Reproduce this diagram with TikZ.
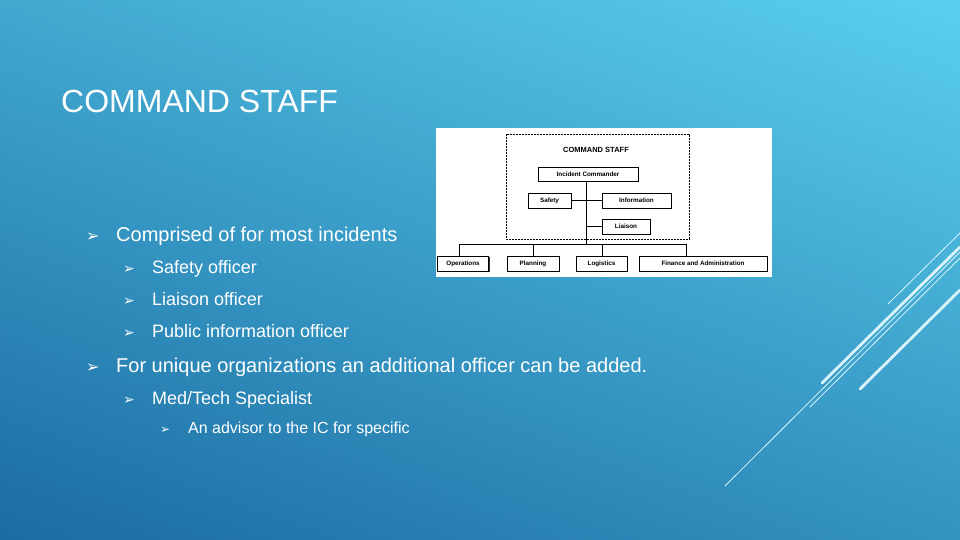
\documentclass[tikz,border=0pt]{standalone}
\usepackage{fontspec}
\setmainfont{Liberation Sans}
\newfontfamily\djvfont{DejaVu Sans}
\begin{document}
\begin{tikzpicture}[x=1pt,y=-1pt,
  box/.style={draw=black,fill=white,line width=0.6pt,inner sep=0pt,font=\fontsize{6.3}{7}\selectfont\bfseries,
    preaction={fill=black!80,transform canvas={xshift=1.3pt,yshift=-1.3pt}}},
  ln/.style={line width=0.8pt},
  deco/.style={white!85!cyan,line cap=round},
  txt/.style={anchor=base west,text=white,inner sep=0pt},
  arr/.style={anchor=base west,text=white,inner sep=0pt}]
\useasboundingbox (0,0) rectangle (960,540);
\shade[shading=axis,top color={rgb,255:red,92;green,210;blue,240},bottom color={rgb,255:red,25;green,105;blue,160},shading angle=-20] (-150,-100) rectangle (1110,640);
% decorative lines
\draw[deco,line width=0.8pt] (888,304) -- (960,233);
\draw[deco,line width=2.8pt] (822,383) -- (960,247);
\draw[deco,line width=0.8pt] (810,407) -- (960,258);
\draw[deco,line width=2.8pt] (860,389) -- (960,290);
\draw[deco,line width=0.8pt] (725,486) -- (960,252);
% title
\node[txt,font=\fontsize{32}{36}\selectfont] (title) at (61,113) {COMMAND STAFF};
% bullets
\node[arr,font=\djvfont\fontsize{16}{18}\selectfont] (b1a) at (86,241) {➢};
\node[txt,font=\fontsize{20}{22}\selectfont] (b1) at (116,241) {Comprised of for most incidents};
\node[arr,font=\djvfont\fontsize{14}{16}\selectfont] (s1a) at (123,273) {➢};
\node[txt,font=\fontsize{18}{20}\selectfont] (s1) at (152,273) {Safety officer};
\node[arr,font=\djvfont\fontsize{14}{16}\selectfont] (s2a) at (123,305) {➢};
\node[txt,font=\fontsize{18}{20}\selectfont] (s2) at (152,305) {Liaison officer};
\node[arr,font=\djvfont\fontsize{14}{16}\selectfont] (s3a) at (123,337) {➢};
\node[txt,font=\fontsize{18}{20}\selectfont] (s3) at (152,337) {Public information officer};
\node[arr,font=\djvfont\fontsize{16}{18}\selectfont] (b2a) at (86,372) {➢};
\node[txt,font=\fontsize{20}{22}\selectfont] (b2) at (116,372) {For unique organizations an additional officer can be added.};
\node[arr,font=\djvfont\fontsize{14}{16}\selectfont] (m1a) at (123,404) {➢};
\node[txt,font=\fontsize{18}{20}\selectfont] (m1) at (152,404) {Med/Tech Specialist};
\node[arr,font=\djvfont\fontsize{12}{14}\selectfont] (m2a) at (160,433) {➢};
\node[txt,font=\fontsize{16}{18}\selectfont] (m2) at (188,433) {An advisor to the IC for specific};
% chart
\fill[white] (436,128) rectangle (772,277);
\draw[dashed,line width=0.6pt,dash pattern=on 2pt off 1pt] (506,134) rectangle (689,239);
\node[font=\fontsize{7.5}{8}\selectfont\bfseries] (cs) at (596,150) {COMMAND STAFF};
\node[box,minimum width=100pt,minimum height=14pt] (ic) at (588,174) {Incident Commander};
\node[box,minimum width=43pt,minimum height=15pt] (saf) at (549.5,200.5) {Safety};
\node[box,minimum width=69pt,minimum height=15pt] (inf) at (636.5,200.5) {Information};
\node[box,minimum width=48pt,minimum height=15pt] (lia) at (626,226.5) {Liaison};
\coordinate (bus) at (586,244);
\draw[ln] (ic.south -| bus) -- (bus);
\draw[ln] (saf.east) -- (inf.west);
\draw[ln] (lia.west) -- (lia.west -| bus);
\node[box,minimum width=51pt,minimum height=15pt] (ops) at (463,263.5) {Operations};
\node[box,minimum width=52pt,minimum height=15pt] (pla) at (533,263.5) {Planning};
\node[box,minimum width=51pt,minimum height=15pt] (log) at (601.5,263.5) {Logistics};
\node[box,minimum width=128pt,minimum height=15pt] (fin) at (703,263.5) {Finance and Administration};
\coordinate (bl) at (459,244);
\coordinate (br) at (686,244);
\draw[ln] (bl) -- (br);
\draw[ln] (bl) -- (bl |- ops.north);
\draw[ln] (pla.north) -- (pla.north |- bus);
\draw[ln] (602,244) -- (602,256);
\draw[ln] (br) -- (br |- fin.north);
\end{tikzpicture}
\end{document}
